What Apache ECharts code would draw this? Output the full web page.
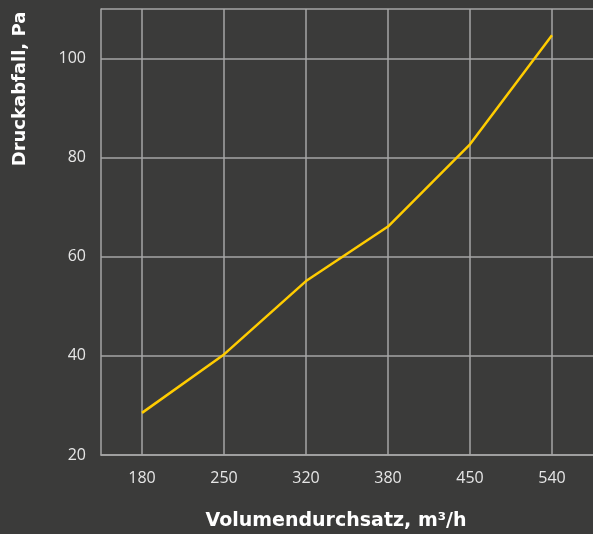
<!DOCTYPE html>
<html>
<head>
<meta charset="utf-8">
<script src="https://cdn.jsdelivr.net/npm/echarts@6/dist/echarts.min.js"></script>
<style>
html,body{margin:0;padding:0;background:#3b3b3a;}
#c{width:593px;height:534px;}
</style>
</head>
<body>
<div id="c"></div>
<script>
const categories = ['180', '250', '320', '380', '450', '540'];
const pressureDrop = [28.5, 40.3, 55.1, 66.1, 82.7, 104.7];
const yTicks = [20, 40, 60, 80, 100];
const xTitle = 'Volumendurchsatz, m³/h';
const yTitle = 'Druckabfall, Pa';

const chart = echarts.init(document.getElementById('c'));
chart.setOption({
  backgroundColor: '#3b3b3a',
  animation: false,
  grid: { left: 101, right: -1, top: 9, bottom: 79, containLabel: false },
  xAxis: {
    type: 'category',
    data: categories,
    boundaryGap: true,
    axisLine: { show: true, lineStyle: { color: '#a6a6a6', width: 1.5 } },
    axisTick: { show: false, alignWithLabel: true },
    axisLabel: { color: '#e6e6e6', fontSize: 16, fontFamily: 'Open Sans', margin: 15 },
    splitLine: { show: true, alignWithLabel: true, lineStyle: { color: '#a6a6a6', width: 1.5 } }
  },
  yAxis: {
    type: 'value',
    min: yTicks[0],
    max: 110,
    interval: 20,
    axisLine: { show: true, lineStyle: { color: '#a6a6a6', width: 1.5 } },
    axisTick: { show: false },
    axisLabel: { color: '#e6e6e6', fontSize: 16, fontFamily: 'Open Sans', margin: 15, showMaxLabel: false,
      formatter: v => (yTicks.indexOf(v) >= 0 ? String(v) : '') },
    splitLine: { show: true, lineStyle: { color: '#a6a6a6', width: 1.5 } }
  },
  graphic: [
    { type: 'text', x: 336, y: 521, style: { text: xTitle, fill: '#ffffff', font: 'bold 19px "DejaVu Sans"', textAlign: 'center', textVerticalAlign: 'middle' } },
    { type: 'text', x: 20, y: 89, rotation: Math.PI / 2, style: { text: yTitle, fill: '#ffffff', font: 'bold 18px "DejaVu Sans"', textAlign: 'center', textVerticalAlign: 'middle' } }
  ],
  series: [{
    type: 'line',
    data: pressureDrop,
    symbol: 'none',
    lineStyle: { color: '#ffcc00', width: 2.5 },
    itemStyle: { color: '#ffcc00' }
  }]
});
</script>
</body>
</html>
